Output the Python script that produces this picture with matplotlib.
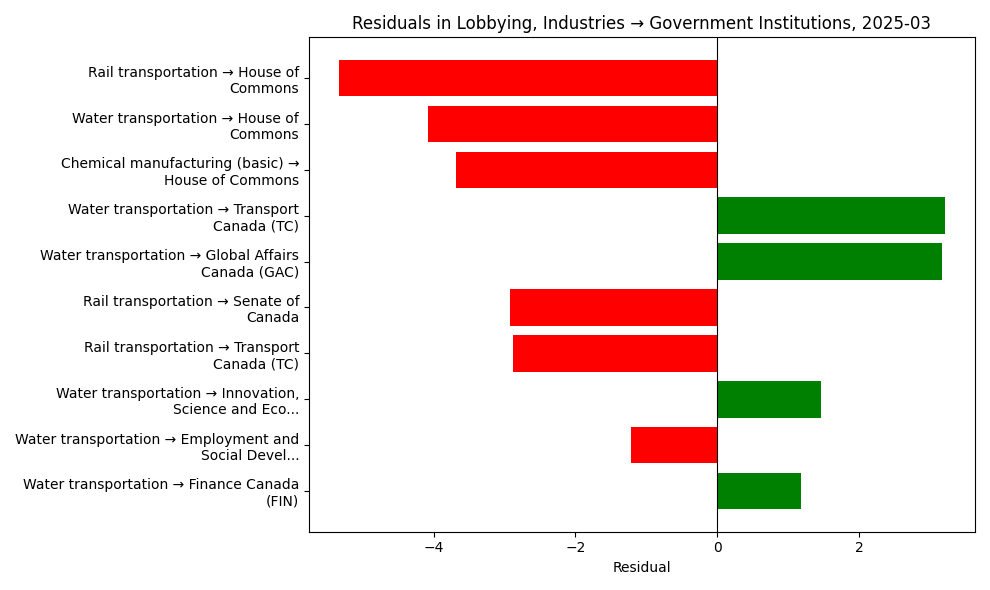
import matplotlib
matplotlib.use("Agg")
import matplotlib.pyplot as plt

labels = [
    "Rail transportation → House of\nCommons",
    "Water transportation → House of\nCommons",
    "Chemical manufacturing (basic) →\nHouse of Commons",
    "Water transportation → Transport\nCanada (TC)",
    "Water transportation → Global Affairs\nCanada (GAC)",
    "Rail transportation → Senate of\nCanada",
    "Rail transportation → Transport\nCanada (TC)",
    "Water transportation → Innovation,\nScience and Eco...",
    "Water transportation → Employment and\nSocial Devel...",
    "Water transportation → Finance Canada\n(FIN)",
]
residuals = [-5.33, -4.08, -3.69, 3.21, 3.17, -2.92, -2.875, 1.47, -1.22, 1.18]

fig, ax = plt.subplots(figsize=(9.9, 5.9), dpi=100)
colors = ["green" if v > 0 else "red" for v in residuals]
ax.barh(range(len(labels)), residuals, color=colors)
ax.set_yticks(range(len(labels)))
ax.set_yticklabels(labels)
ax.invert_yaxis()
ax.axvline(0, color="black", linewidth=0.8)
ax.set_xlabel("Residual")
ax.set_title("Residuals in Lobbying, Industries → Government Institutions, 2025-03")
fig.tight_layout()
fig.savefig("out.png")
